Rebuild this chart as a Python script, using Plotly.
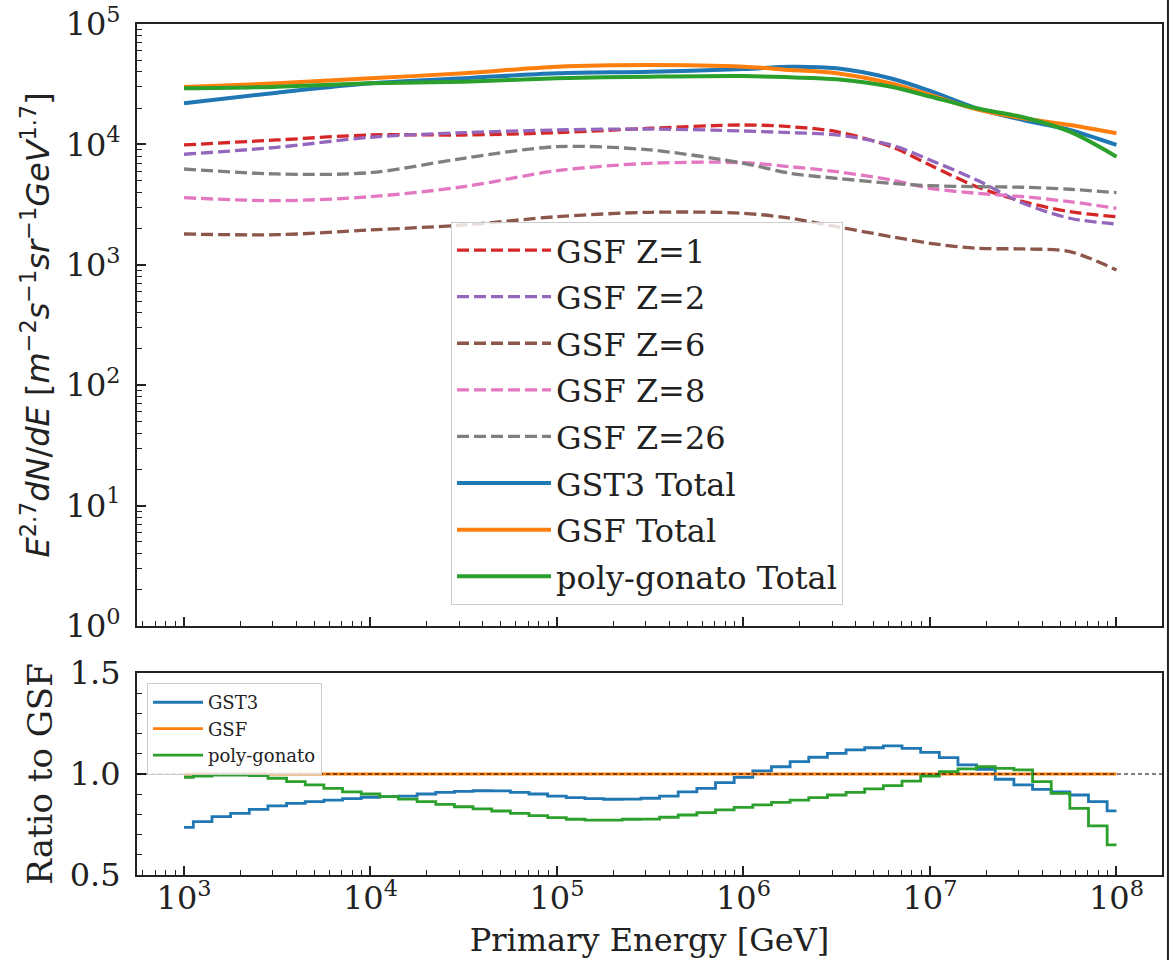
import plotly.graph_objects as go

# ---- Top panel: E^2.7-weighted flux per element and totals ----
energy = [1e3, 3.16e3, 1e4, 3.16e4, 1e5, 3.16e5, 1e6, 1.78e6, 3.16e6,
          6.2e6, 1e7, 1.78e7, 3.16e7, 5.62e7, 1e8]

gsf_z1 = [9890, 10880, 11970, 11970, 12510, 13610, 14490, 14030, 12750,
          9570, 6744, 4454, 3343, 2761, 2508]
gsf_z2 = [8277, 9461, 11460, 12510, 13170, 13420, 12920, 12510, 11970,
          9890, 7421, 5061, 3242, 2434, 2182]
gsf_z6 = [1802, 1778, 1945, 2141, 2508, 2729, 2677, 2434, 2072,
          1712, 1509, 1371, 1353, 1285, 905]
gsf_z8 = [3608, 3408, 3678, 4454, 6045, 6966, 7047, 6527, 5934,
          5061, 4319, 3925, 3678, 3343, 2946]
gsf_z26 = [6247, 5678, 5821, 7666, 9570, 8985, 6966, 5754, 5228,
           4752, 4539, 4454, 4403, 4238, 3972]

gst3_total = [21950, 26880, 32170, 35400, 38960, 40160, 42290, 44190, 42870,
              35260, 27770, 19940, 15950, 13170, 9890]
gsf_total = [29970, 32170, 35400, 38960, 44190, 45640, 44190, 41490, 38960,
             32040, 25720, 19560, 16470, 14490, 12370]
polygonato_total = [29240, 30150, 32170, 33180, 35400, 36500, 36990, 36080, 34730,
                    30150, 24990, 19940, 16800, 12750, 7904]

# ---- Bottom panel: ratio of each total to GSF, in 0.1-dex energy bins ----
bin_log_energy = [3.0, 3.1, 3.2, 3.3, 3.4, 3.5, 3.6, 3.7, 3.8, 3.9,
                  4.0, 4.1, 4.2, 4.3, 4.4, 4.5, 4.6, 4.7, 4.8, 4.9,
                  5.0, 5.1, 5.2, 5.3, 5.4, 5.5, 5.6, 5.7, 5.8, 5.9,
                  6.0, 6.1, 6.2, 6.3, 6.4, 6.5, 6.6, 6.7, 6.8, 6.9,
                  7.0, 7.1, 7.2, 7.3, 7.4, 7.5, 7.6, 7.7, 7.8, 7.9, 8.0]

ratio_gst3 = [0.736, 0.764, 0.789, 0.805, 0.825, 0.842, 0.855, 0.863, 0.871, 0.878,
              0.885, 0.888, 0.891, 0.901, 0.909, 0.914, 0.917, 0.916, 0.909, 0.901,
              0.891, 0.883, 0.878, 0.875, 0.876, 0.880, 0.891, 0.912, 0.929, 0.957,
              0.983, 1.015, 1.036, 1.061, 1.083, 1.102, 1.119, 1.130, 1.139, 1.127,
              1.107, 1.081, 1.045, 1.023, 0.974, 0.946, 0.924, 0.912, 0.896, 0.863, 0.818]
ratio_gsf = [1.0] * 51
ratio_polygonato = [0.984, 0.990, 0.995, 0.995, 0.992, 0.979, 0.962, 0.946, 0.929, 0.912,
                    0.901, 0.888, 0.876, 0.863, 0.850, 0.838, 0.827, 0.817, 0.805, 0.794,
                    0.784, 0.776, 0.772, 0.772, 0.776, 0.777, 0.786, 0.797, 0.809, 0.822,
                    0.835, 0.847, 0.860, 0.871, 0.883, 0.896, 0.909, 0.926, 0.942, 0.965,
                    0.990, 1.012, 1.025, 1.036, 1.028, 1.020, 0.962, 0.904, 0.830, 0.743, 0.649]

bin_energy = [10 ** v for v in bin_log_energy]

C_BLUE, C_ORANGE, C_GREEN = "#1f77b4", "#ff7f0e", "#2ca02c"
C_RED, C_PURPLE, C_BROWN = "#d62728", "#9467bd", "#8c564b"
C_PINK, C_GRAY = "#e377c2", "#7f7f7f"

SERIF = "DejaVu Serif"
INK = "#222222"

fig = go.Figure()

dashed = [
    ("GSF Z=1", gsf_z1, C_RED),
    ("GSF Z=2", gsf_z2, C_PURPLE),
    ("GSF Z=6", gsf_z6, C_BROWN),
    ("GSF Z=8", gsf_z8, C_PINK),
    ("GSF Z=26", gsf_z26, C_GRAY),
]
for name, vals, col in dashed:
    fig.add_trace(go.Scatter(
        x=energy, y=vals, mode="lines", name=name, legendgroup=name,
        line=dict(color=col, width=3.3, dash="12px,5px", shape="spline", smoothing=0.9),
        xaxis="x", yaxis="y", legend="legend"))

solid = [
    ("GST3 Total", gst3_total, C_BLUE),
    ("GSF Total", gsf_total, C_ORANGE),
    ("poly-gonato Total", polygonato_total, C_GREEN),
]
for name, vals, col in solid:
    fig.add_trace(go.Scatter(
        x=energy, y=vals, mode="lines", name=name, legendgroup=name,
        line=dict(color=col, width=4, shape="spline", smoothing=0.9),
        xaxis="x", yaxis="y", legend="legend"))

ratios = [
    ("GST3", ratio_gst3, C_BLUE),
    ("GSF", ratio_gsf, C_ORANGE),
    ("poly-gonato", ratio_polygonato, C_GREEN),
]
for name, vals, col in ratios:
    fig.add_trace(go.Scatter(
        x=bin_energy, y=vals, mode="lines", name=name, legendgroup="r_" + name,
        line=dict(color=col, width=2.8, shape="hvh"),
        xaxis="x2", yaxis="y2", legend="legend2"))

# reference line at ratio 1
fig.add_shape(type="line", xref="x2 domain", yref="y2", x0=0, x1=1, y0=1.0, y1=1.0,
              line=dict(color="black", width=1, dash="4px,3px"), layer="above")
# outer frame line at the right edge of the figure
fig.add_shape(type="line", xref="paper", yref="paper", x0=0.9957, x1=0.9957, y0=0, y1=1,
              line=dict(color=INK, width=2))

decades_x = [1e3, 1e4, 1e5, 1e6, 1e7, 1e8]
minor_x = [m * 10 ** d for d in range(2, 9) for m in range(2, 10)
           if 10 ** 2.748 <= m * 10 ** d <= 10 ** 8.244]
decades_y = [1, 10, 100, 1e3, 1e4, 1e5]
minor_y = [m * 10 ** d for d in range(0, 5) for m in range(2, 10)]


def sup(e):
    return "10<sup>%d</sup>" % e


common = dict(showgrid=False, zeroline=False, showline=True, linecolor=INK, linewidth=2,
              mirror=True, ticks="inside", ticklen=9, tickwidth=1.5, tickcolor=INK,
              tickfont=dict(family=SERIF, size=32, color=INK), automargin=False)

XDOM = [0.1168, 0.9906]

fig.update_layout(
    width=1173, height=960,
    margin=dict(l=0, r=0, t=0, b=0),
    paper_bgcolor="white", plot_bgcolor="white",
    xaxis=dict(type="log", range=[2.748, 8.244], domain=XDOM, anchor="y",
               tickmode="array", tickvals=decades_x, showticklabels=False,
               minor=dict(tickmode="array", tickvals=minor_x, ticks="inside",
                          ticklen=5, tickwidth=1.2, tickcolor=INK),
               **common),
    yaxis=dict(type="log", range=[0, 5], domain=[0.348, 0.975], anchor="x",
               tickmode="array", tickvals=decades_y, ticktext=[sup(e) for e in range(6)],
               ticklabelstandoff=8,
               minor=dict(tickmode="array", tickvals=minor_y, ticks="inside",
                          ticklen=5, tickwidth=1.2, tickcolor=INK),
               title=dict(text="<i>E</i><sup>2.7</sup><i>dN</i>/<i>dE</i> [<i>m</i><sup>−2</sup>"
                               "<i>s</i><sup>−1</sup><i>sr</i><sup>−1</sup><i>GeV</i><sup>1.7</sup>]",
                          font=dict(family="DejaVu Sans", size=32, color=INK), standoff=6),
               **common),
    xaxis2=dict(type="log", range=[2.748, 8.244], domain=XDOM, anchor="y2",
                tickmode="array", tickvals=decades_x, ticktext=[sup(e) for e in range(3, 9)],
                ticklabelstandoff=-6,
                minor=dict(tickmode="array", tickvals=minor_x, ticks="inside",
                           ticklen=5, tickwidth=1.2, tickcolor=INK),
                title=dict(text="Primary Energy [GeV]",
                           font=dict(family=SERIF, size=32, color=INK), standoff=12),
                **common),
    yaxis2=dict(range=[0.5, 1.5], domain=[0.0885, 0.299], anchor="x2",
                tickmode="array", tickvals=[0.5, 1.0, 1.5], ticktext=["0.5", "1.0", "1.5"],
                ticklabelstandoff=8,
                minor=dict(tickmode="array", tickvals=[0.6, 0.7, 0.8, 0.9, 1.1, 1.2, 1.3, 1.4],
                           ticks="inside", ticklen=5, tickwidth=1.2, tickcolor=INK),
                title=dict(text="Ratio to GSF", font=dict(family=SERIF, size=34, color=INK),
                           standoff=7),
                **common),
    legend=dict(x=0.3845, y=0.769, xanchor="left", yanchor="top",
                bgcolor="rgba(255,255,255,0.8)", bordercolor="#cccccc", borderwidth=1,
                font=dict(family=SERIF, size=32, color=INK), tracegroupgap=2,
                itemwidth=94),
    legend2=dict(x=0.1253, y=0.2885, xanchor="left", yanchor="top",
                 bgcolor="rgba(255,255,255,0.8)", bordercolor="#cccccc", borderwidth=1,
                 font=dict(family=SERIF, size=18, color=INK), tracegroupgap=0,
                 itemwidth=50),
    showlegend=True,
)

fig.write_html("out.html")
